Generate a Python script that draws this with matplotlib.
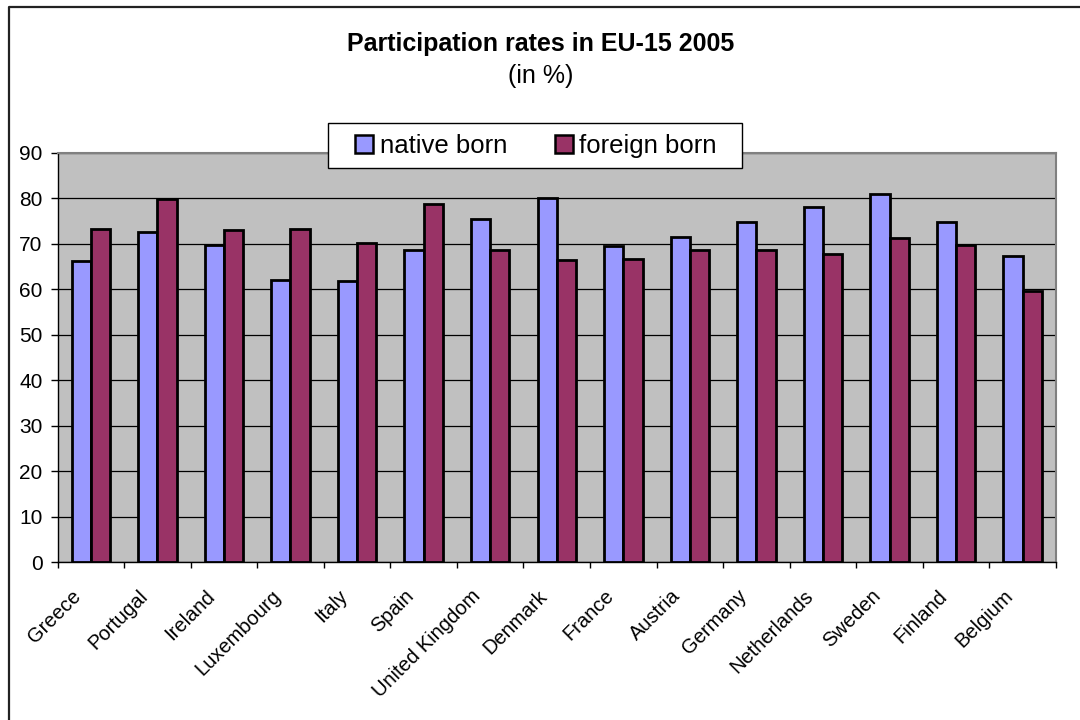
import matplotlib
matplotlib.use("Agg")
import matplotlib.pyplot as plt
import matplotlib.transforms as mtransforms
from matplotlib.patches import Rectangle, Patch
from matplotlib.lines import Line2D
import numpy as np

countries = ["Greece", "Portugal", "Ireland", "Luxembourg", "Italy", "Spain",
             "United Kingdom", "Denmark", "France", "Austria", "Germany",
             "Netherlands", "Sweden", "Finland", "Belgium"]
native_born = [66.2, 72.6, 69.7, 62.0, 61.8, 68.6, 75.5, 80.2, 69.5, 71.6,
               74.8, 78.1, 81.0, 74.8, 67.3]
foreign_born = [73.2, 79.8, 73.0, 73.2, 70.1, 78.7, 68.7, 66.5, 66.6, 68.7,
                68.6, 67.8, 71.2, 69.7, 59.7]
y_ticks = list(range(0, 91, 10))

plt.rcParams["font.family"] = ["Liberation Sans", "DejaVu Sans"]

W, H = 1080, 720
fig = plt.figure(figsize=(W / 100, H / 100), dpi=100)
fig.patch.set_facecolor("white")

# plot area in pixel coordinates
left_px, right_px, top_px, bottom_px = 57.5, 1056.0, 153.0, 562.0
ax = fig.add_axes([left_px / W, 1 - bottom_px / H,
                   (right_px - left_px) / W, (bottom_px - top_px) / H])
ax.set_facecolor("#C0C0C0")

x = np.arange(len(countries))
bw = 0.289
edge_kw = dict(edgecolor="black", linewidth=2.0, zorder=3)
ax.bar(x - bw / 2, native_born, bw, color="#9999FF", **edge_kw)
ax.bar(x + bw / 2, foreign_born, bw, color="#993366", **edge_kw)

ax.set_xlim(-0.5, len(countries) - 0.5)
ax.set_ylim(0, 90)
ax.set_yticks(y_ticks)
ax.yaxis.grid(True, color="black", linewidth=0.9)
ax.set_axisbelow(True)

for side in ("top", "right"):
    ax.spines[side].set_color("#808080")
    ax.spines[side].set_linewidth(1.5)
for side in ("left", "bottom"):
    ax.spines[side].set_color("black")
    ax.spines[side].set_linewidth(1.0)

ax.tick_params(axis="y", direction="out", length=4.8, width=1.0, pad=6.0,
               labelsize=15)

# category labels at centres, tick marks at category boundaries
ax.set_xticks(x)
ax.set_xticklabels(countries)
ax.set_xticks(np.arange(len(countries) + 1) - 0.5, minor=True)
ax.tick_params(axis="x", which="major", length=0, pad=25.2, labelsize=14.5)
ax.tick_params(axis="x", which="minor", direction="out", length=4.2, width=1.0)
shift = mtransforms.ScaledTranslation(-8.5 / 100, 0, fig.dpi_scale_trans)
for lbl in ax.get_xticklabels():
    lbl.set_rotation(45)
    lbl.set_rotation_mode("anchor")
    lbl.set_ha("right")
    lbl.set_va("baseline")
    lbl.set_transform(lbl.get_transform() + shift)

# titles
fig.text(0.5 * (W + 1) / W, 1 - 44 / H, "Participation rates in EU-15 2005",
         ha="center", va="center", fontsize=18, fontweight="bold")
fig.text(0.5 * (W + 1) / W, 1 - 76 / H, "(in %)",
         ha="center", va="center", fontsize=18)

# legend box with white background
box = Rectangle((328 / W, 1 - 168 / H), (742 - 328) / W, 45 / H,
                transform=fig.transFigure, facecolor="white",
                edgecolor="black", linewidth=1.0, zorder=4)
fig.patches.append(box)
handles = [Patch(facecolor="#9999FF", edgecolor="black", linewidth=1.8),
           Patch(facecolor="#993366", edgecolor="black", linewidth=1.8)]
leg = fig.legend(handles, ["native born", "foreign born"], ncol=2,
                 loc="center", bbox_to_anchor=(536 / W, 1 - 146 / H),
                 frameon=False, fontsize=18.5, handlelength=0.7,
                 handleheight=0.7, handletextpad=0.25, columnspacing=1.85,
                 borderpad=0.2)
leg.set_zorder(5)

# outer frame (top and left edges)
fig.lines.append(Line2D([8.7 / W, 8.7 / W, 1.0], [0.0, 1 - 6.7 / H, 1 - 6.7 / H],
                        transform=fig.transFigure, color="#222222",
                        linewidth=1.6))

fig.savefig("out.png", dpi=100)
